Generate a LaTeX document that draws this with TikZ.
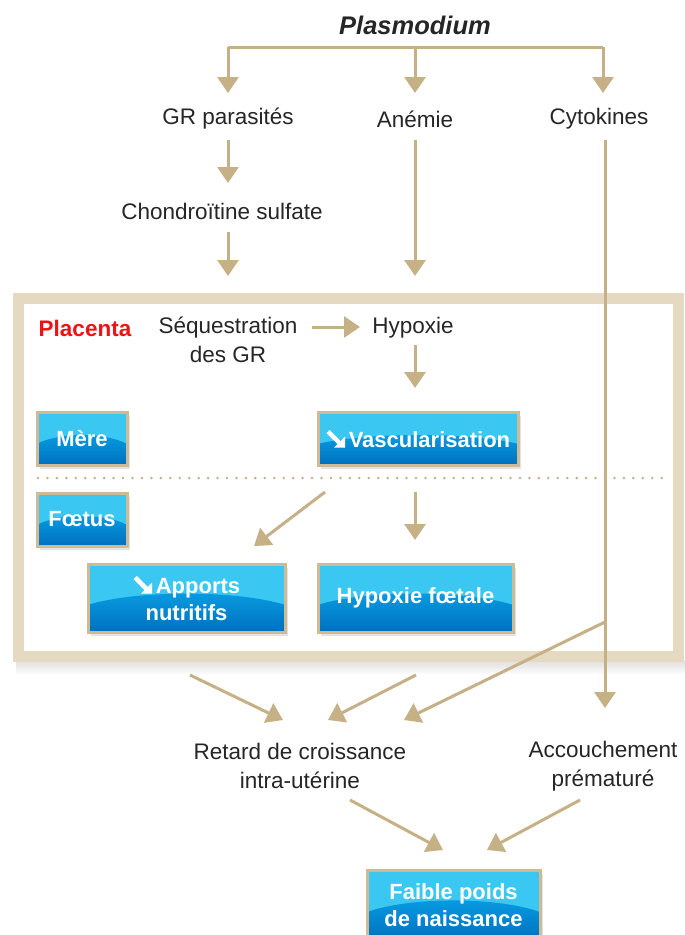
\documentclass[tikz,border=0pt]{standalone}
\usepackage{fontspec}
\setmainfont{Liberation Sans}
\usetikzlibrary{arrows.meta,calc,shadows}
\definecolor{tan}{RGB}{198,176,134}
\definecolor{frametan}{RGB}{229,217,193}
\definecolor{boxborder}{RGB}{206,186,148}
\definecolor{boxlight}{RGB}{58,199,242}
\definecolor{boxmid}{RGB}{8,158,228}
\definecolor{boxdark}{RGB}{0,112,190}
\definecolor{txt}{RGB}{38,38,38}
\definecolor{placred}{RGB}{235,20,20}
\tikzset{
  lbl/.style={font=\fontsize{22.5}{29}\selectfont, text=txt, align=center, inner sep=0pt},
  arr/.style={draw=tan, line width=3pt, -{Triangle[width=21pt,length=16pt]}},
  plain/.style={draw=tan, line width=3pt},
  bluebox/.style={draw=boxborder, line width=3pt, minimum height=53pt,
    font=\bfseries\fontsize{22}{27}\selectfont, text=white, align=center, inner sep=0pt,
    drop shadow={opacity=0.22, shadow xshift=3pt, shadow yshift=-4pt},
    path picture={
      \fill[boxlight] (path picture bounding box.south west) rectangle (path picture bounding box.north east);
      \shade[top color=boxmid, bottom color=boxdark]
        let \p1=(path picture bounding box.south west), \p2=(path picture bounding box.north east) in
        (\x1,\y1) -- (\x1,{\y1+0.40*(\y2-\y1)})
        .. controls ({\x1+0.25*(\x2-\x1)},{\y1+0.62*(\y2-\y1)}) and ({\x1+0.75*(\x2-\x1)},{\y1+0.62*(\y2-\y1)}) ..
        (\x2,{\y1+0.40*(\y2-\y1)}) -- (\x2,\y1) -- cycle;
    }},
}
\newcommand{\dn}{\tikz[x=1pt,y=1pt,baseline=0pt]{\fill[white] (7,0) -- (18,0) -- (18,11) -- cycle; \draw[white, line width=4.5pt] (1,16) -- (13,4);}}
\begin{document}
\begin{tikzpicture}[x=1pt,y=-1pt]
\useasboundingbox (0,0) rectangle (685,935);
\fill[white] (0,0) rectangle (685,935);

% placenta frame
\shade[top color=black!12, bottom color=white] (16,661) rectangle (686,675);
\draw[frametan, line width=11pt] (18.5,298.5) rectangle (678.5,656.5);

% text nodes
\node[lbl, font=\bfseries\itshape\fontsize{25.5}{29}\selectfont] (plas) at (415,25) {Plasmodium};
\node[lbl] (gr) at (228,119) {GR parasités};
\node[lbl] (anem) at (415,119) {Anémie};
\node[lbl] (cyto) at (599,119) {Cytokines};
\node[lbl] (chon) at (222,211) {Chondroïtine sulfate};
\node[lbl, font=\bfseries\fontsize{22.5}{29}\selectfont, text=placred] (plac) at (85,328) {Placenta};
\node[lbl] (seq) at (228,340) {Séquestration\\des GR};
\node[lbl] (hyp) at (413,328) {Hypoxie};
\node[lbl] (retard) at (300,766) {Retard de croissance\\intra-utérine};
\node[lbl] (accou) at (603,766) {Accouchement\\prématuré};

% boxes
\node[bluebox, minimum width=90pt] (mere) at (82,438.5) {Mère};
\node[bluebox, minimum width=200pt] (vasc) at (418,438.5) {\dn\,Vascularisation};
\node[bluebox, minimum width=90pt] (foet) at (82,519.5) {Fœtus};
\node[bluebox, minimum width=197pt, minimum height=68pt] (app) at (186.5,598) {\dn\,Apports\\nutritifs};
\node[bluebox, minimum width=195pt, minimum height=68pt] (hf) at (415.5,598) {Hypoxie fœtale};
\node[bluebox, minimum width=173pt, minimum height=70pt] (fpn) at (453.5,905) {Faible poids\\de naissance};

% dotted separator
\coordinate (dotL) at (38,478);
\coordinate (dotR) at (662,478);
\draw[tan, line width=2.8pt, line cap=round, dash pattern=on 0pt off 9.45pt] (dotL) -- (dotR);

% coordinates
\coordinate (topL) at (228,47);
\coordinate (topM) at (415,47);
\coordinate (topR) at (603,47);
\coordinate (cytoTop) at (605,140);
\coordinate (cytoMid) at (605,622);
\coordinate (cytoEnd) at (605,708);

% arrows top
\draw[plain] (topL) -- (topR);
\draw[arr] (topL) -- (228,93);
\draw[arr] (topM) -- (415,93);
\draw[arr] (topR) -- (603,93);
\draw[arr] (228,140) -- (228,183);
\draw[arr] (228,232) -- (228,276);
\draw[arr] (415,140) -- (415,276);
\draw[arr] (312,327) -- (360,327);
\draw[arr] (415,345) -- (415,388);
\draw[arr] (325,492) -- (254,546);
\draw[arr] (415,492) -- (415,540);

% lower arrows
\draw[arr] (cytoTop) -- (cytoEnd);
\draw[arr] (cytoMid) -- (404,720);
\draw[arr] (190,675) -- (283,720);
\draw[arr] (416,675) -- (328,720);
\draw[arr] (350,800) -- (443,850);
\draw[arr] (580,800) -- (487,850);
\end{tikzpicture}
\end{document}
